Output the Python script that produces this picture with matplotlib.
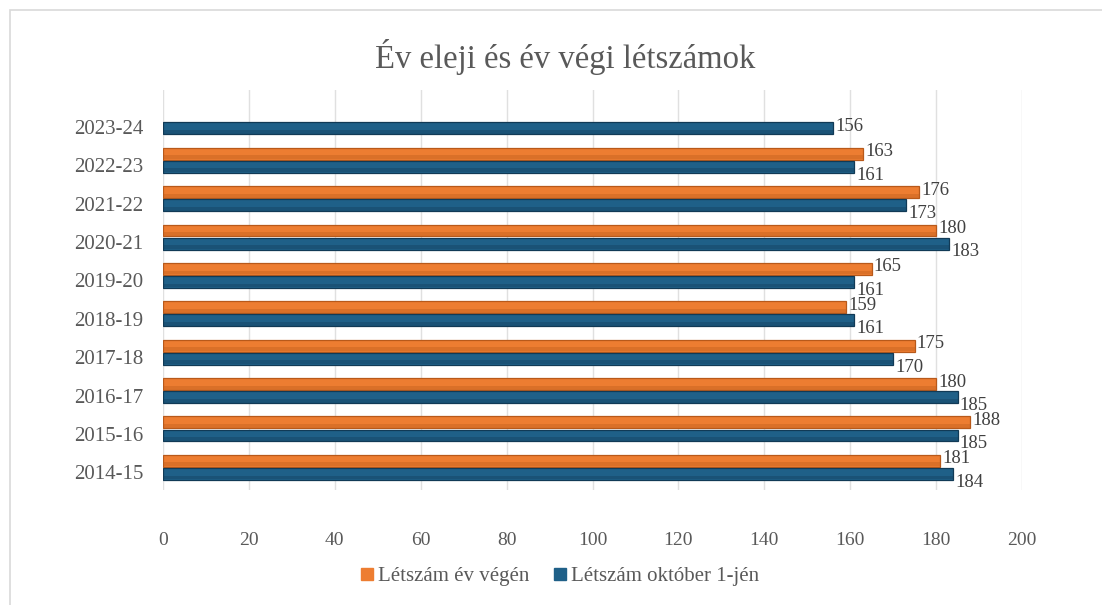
import matplotlib
matplotlib.use('Agg')
import matplotlib.pyplot as plt
from matplotlib.patches import Rectangle
import matplotlib.transforms as mtransforms
import numpy as np

plt.rcParams['font.family'] = ['Liberation Serif', 'DejaVu Serif']

# data
years = ['2014-15', '2015-16', '2016-17', '2017-18', '2018-19',
         '2019-20', '2020-21', '2021-22', '2022-23', '2023-24']
ev_vegen = [181, 188, 180, 175, 159, 165, 180, 176, 163, None]
okt_1 = [184, 185, 185, 170, 161, 161, 183, 173, 161, 156]
legend_labels = ['Létszám év végén', 'Létszám október 1-jén']
x_ticks = [0, 20, 40, 60, 80, 100, 120, 140, 160, 180, 200]

ORANGE = '#ED7D31'
ORANGE_DARK = '#B8591A'
BLUE = '#1F6088'
BLUE_DARK = '#113A56'
TEXT = '#595959'

fig = plt.figure(figsize=(11.02, 6.05), dpi=100)
fig.patches.append(Rectangle((10 / 1102, -0.01), 1.02, 1 - 10 / 605 + 0.01,
                             transform=fig.transFigure, fill=False,
                             edgecolor='#d9d9d9', linewidth=1.2))

ax = fig.add_axes([163 / 1102, 1 - 490 / 605, (1022 - 163) / 1102, 400 / 605])

y = np.arange(len(years))
h = 0.31
off = 0.17


def cyl_bar(ax, ypos, val, color, dark):
    # flat bar plus a soft darker lower strip to fake the cylinder look
    ax.barh(ypos, val, height=h, color=color, edgecolor=dark, linewidth=0.9, zorder=3)
    ax.barh(ypos - h * 0.3, val, height=h * 0.32, color=dark, linewidth=0,
            alpha=0.35, zorder=4)


for i in range(len(years)):
    if ev_vegen[i] is not None:
        cyl_bar(ax, y[i] + off, ev_vegen[i], ORANGE, ORANGE_DARK)
        ax.text(ev_vegen[i] + 0.5, y[i] + off + 0.05, str(ev_vegen[i]),
                ha='left', va='center', fontsize=13.5, color='#404040', zorder=5)
        cyl_bar(ax, y[i] - off, okt_1[i], BLUE, BLUE_DARK)
        ax.text(okt_1[i] + 0.5, y[i] - off - 0.22, str(okt_1[i]),
                ha='left', va='center', fontsize=13.5, color='#404040', zorder=5)
    else:
        cyl_bar(ax, y[i] - off, okt_1[i], BLUE, BLUE_DARK)
        ax.text(okt_1[i] + 0.5, y[i] - off + 0.05, str(okt_1[i]),
                ha='left', va='center', fontsize=13.5, color='#404040', zorder=5)

ax.set_xlim(0, 200)
ax.set_ylim(-0.59, 9.83)
ax.set_xticks(x_ticks)
ax.set_xticklabels([str(t) for t in x_ticks], fontsize=14, color=TEXT)
ax.set_yticks(y)
ax.set_yticklabels(years, fontsize=15, color=TEXT)
ax.tick_params(axis='x', length=0, pad=30)
ax.tick_params(axis='y', length=0, pad=14)
shift = mtransforms.ScaledTranslation(0, -5 / 100, fig.dpi_scale_trans)
for lab in ax.get_yticklabels():
    lab.set_transform(lab.get_transform() + shift)
ax.grid(True, axis='x', color='#e0e0e0', linewidth=1, zorder=0)
for s in ax.spines.values():
    s.set_visible(False)

fig.text(565 / 1102, 1 - 57 / 605, 'Év eleji és év végi létszámok',
         ha='center', va='center', fontsize=23.5, color=TEXT)

handles = [Rectangle((0, 0), 1, 1, color=ORANGE), Rectangle((0, 0), 1, 1, color=BLUE)]
fig.legend(handles, legend_labels, loc='center', bbox_to_anchor=(560 / 1102, 1 - 577 / 605),
           ncol=2, frameon=False, fontsize=15, handlelength=0.55, handleheight=0.55,
           handletextpad=0.25, columnspacing=1.2, labelcolor=TEXT)

fig.savefig('out.png', dpi=100)
